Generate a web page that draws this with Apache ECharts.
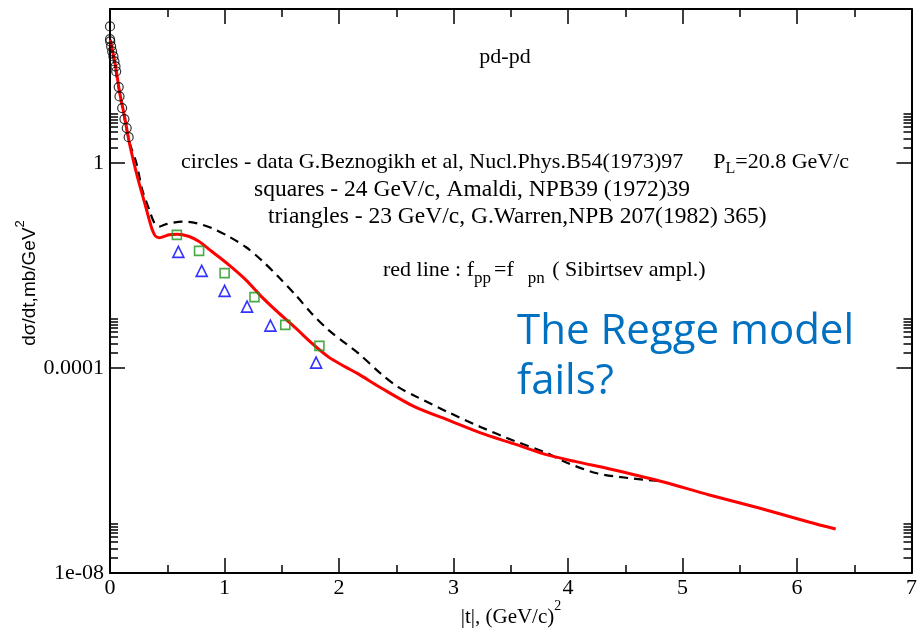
<!DOCTYPE html>
<html><head><meta charset="utf-8">
<script src="https://cdn.jsdelivr.net/npm/echarts@6/dist/echarts.min.js"></script>
<style>html,body{margin:0;padding:0;background:#fff}#c{width:920px;height:640px}</style>
</head><body><div id="c"></div>
<script>
// ---- data ----
const xTicks = [0, 1, 2, 3, 4, 5, 6, 7];
const yMajorTicks = [1e-8, 1e-4, 1];
const yMajorLabels = ['1e-08', '0.0001', '1'];
const yMinorTicks = [2e-8, 3e-8, 4e-8, 5e-8, 6e-8, 7e-8, 8e-8, 9e-8,
                     2e-4, 3e-4, 4e-4, 5e-4, 6e-4, 7e-4, 8e-4, 9e-4,
                     2, 3, 4, 5, 6, 7, 8, 9];

// circles - G.Beznogikh et al, 20.8 GeV/c
const circlesX = [0.0, 0.0, 0.002, 0.010, 0.019, 0.030, 0.039, 0.048, 0.054, 0.076, 0.083, 0.106, 0.126, 0.146, 0.163];
const circlesY = [457, 259, 233, 186, 149, 119, 94.8, 75.7, 60.4, 30.0, 19.7, 11.7, 7.12, 4.75, 3.17];

// squares - 24 GeV/c, Amaldi
const squaresX = [0.584, 0.778, 1.001, 1.262, 1.531, 1.829];
const squaresY = [0.0394, 0.0192, 0.00705, 0.0024, 6.9e-4, 2.69e-4];

// triangles - 23 GeV/c, G.Warren
const trianglesX = [0.597, 0.801, 1.001, 1.197, 1.401, 1.800];
const trianglesY = [0.0183, 0.00781, 0.00318, 0.00157, 6.69e-4, 1.27e-4];

// red line (f_pp = f_pn, Sibirtsev ampl.)
const redX = [0.002, 0.048, 0.083, 0.126, 0.169, 0.213, 0.256, 0.300, 0.343, 0.369, 0.395, 0.430, 0.474, 0.517, 0.586,
              0.691, 0.778, 0.890, 1.038, 1.186, 1.325, 1.473, 1.620, 1.759, 1.907, 2.055, 2.168, 2.368, 2.663, 2.950,
              3.236, 3.532, 3.819, 4.079, 4.366, 4.800, 5.235, 5.669, 6.103, 6.338];
const redY = [251, 78.1, 24.3, 8.26, 2.46, 0.914, 0.389, 0.173, 0.0772, 0.0493, 0.0376, 0.0344, 0.0368, 0.0394, 0.0403,
              0.0365, 0.0291, 0.0186, 0.0102, 0.00521, 0.00243, 0.00118, 6.03e-4, 3.08e-4, 1.64e-4, 1.05e-4, 7.64e-5, 4.07e-5, 1.73e-5, 9.66e-6,
              5.39e-6, 3.29e-6, 2.01e-6, 1.47e-6, 1.07e-6, 6.24e-7, 3.33e-7, 1.85e-7, 9.89e-8, 7.22e-8];

// black dashed line
const dashX = [0.002, 0.083, 0.169, 0.230, 0.282, 0.343, 0.387, 0.430, 0.491, 0.630, 0.752, 0.890, 1.038, 1.186, 1.325,
               1.473, 1.620, 1.759, 1.907, 2.055, 2.168, 2.368, 2.515, 2.663, 2.950, 3.236, 3.532, 3.819, 3.966, 4.253,
               4.540, 4.800];
const dashY = [251, 24.3, 2.57, 1.0, 0.297, 0.121, 0.0675, 0.0571, 0.0637, 0.0716, 0.0666, 0.0532, 0.0365, 0.0228, 0.0125,
               0.00591, 0.00266, 0.00117, 5.51e-4, 3.03e-4, 1.94e-4, 7.64e-5, 4.26e-5, 2.84e-5, 1.38e-5, 7.06e-6, 3.77e-6, 2.17e-6, 1.49e-6, 8.81e-7,
               7.05e-7, 6.24e-7];

const zip = (xs, ys) => xs.map((x, i) => [x, ys[i]]);
const SERIF = 'Liberation Serif';
const SANS = 'Liberation Sans';

// text measurement to lay out sub/superscript pieces
const mctx = document.createElement('canvas').getContext('2d');
function tw(text, size, family) { mctx.font = size + 'px "' + family + '"'; return mctx.measureText(text).width; }
// segs: [text, size, dy, gapBefore]
function textLine(x, y, segs, family, align, rotation, color) {
  let w = 0; const pos = [];
  segs.forEach(s => { w += (s[3] || 0); pos.push(w); w += tw(s[0], s[1], family); });
  const x0 = align === 'center' ? -w / 2 : 0;
  return {
    type: 'group', x: x, y: y, rotation: rotation || 0,
    children: segs.map((s, i) => ({
      type: 'text', x: x0 + pos[i], y: s[2],
      style: {text: s[0], font: s[1] + 'px "' + family + '"', fill: color || '#000', align: 'left', verticalAlign: 'middle'}
    }))
  };
}

const chart = echarts.init(document.getElementById('c'), null, {renderer: 'canvas'});

const xAxisBase = (pos, showLabel) => ({
  type: 'value', position: pos, min: 0, max: 7, interval: 1,
  axisLine: {show: true, onZero: false, lineStyle: {color: '#000', width: 2}},
  axisTick: {show: true, inside: true, length: 15, lineStyle: {color: '#000', width: 1.5}},
  minorTick: {show: true, splitNumber: 2, length: 8, lineStyle: {color: '#000', width: 1.5}},
  splitLine: {show: false}, minorSplitLine: {show: false},
  axisLabel: {show: showLabel, color: '#000', fontFamily: SERIF, fontSize: 22, margin: 4,
              formatter: v => String(v)}
});
const yAxisBase = (pos, ticks, len, showLine, showLabel) => ({
  type: 'log', logBase: 10, position: pos, min: 1e-8, max: 1000,
  axisLine: {show: showLine, onZero: false, lineStyle: {color: '#000', width: 2}},
  axisTick: {show: true, inside: true, length: len, customValues: ticks, lineStyle: {color: '#000', width: 1.5}},
  minorTick: {show: false},
  splitLine: {show: false},
  axisLabel: {show: showLabel, customValues: yMajorTicks, color: '#000', fontFamily: SERIF, fontSize: 22, margin: 6,
              formatter: v => {
                const i = yMajorTicks.findIndex(t => Math.abs(Math.log10(t) - Math.log10(v)) < 1e-6);
                return i >= 0 ? yMajorLabels[i] : '';
              }}
});

const F = 22, F2 = 23.5, FS = 16;
chart.setOption({
  animation: false,
  backgroundColor: '#fff',
  grid: {left: 110, right: 4, top: 9, bottom: 67, containLabel: false},
  xAxis: [xAxisBase('bottom', true), xAxisBase('top', false)],
  yAxis: [
    yAxisBase('left', yMajorTicks, 15, true, true),
    yAxisBase('left', yMinorTicks, 8, false, false),
    yAxisBase('right', yMajorTicks, 15, true, false),
    yAxisBase('right', yMinorTicks, 8, false, false)
  ],
  series: [
    {type: 'line', data: zip(dashX, dashY), showSymbol: false, smooth: 0.3, z: 3,
     lineStyle: {color: '#000', width: 2.2, type: [9, 6]}},
    {type: 'line', data: zip(redX, redY), showSymbol: false, smooth: 0.3, z: 4,
     lineStyle: {color: '#ff0000', width: 3}},
    {type: 'scatter', data: zip(circlesX, circlesY), symbol: 'circle', symbolSize: 9, clip: false, z: 5,
     itemStyle: {color: 'rgba(0,0,0,0)', borderColor: '#000', borderWidth: 1.2}},
    {type: 'scatter', data: zip(squaresX, squaresY), symbol: 'rect', symbolSize: 9, z: 5,
     itemStyle: {color: 'rgba(0,0,0,0)', borderColor: '#1a961a', borderWidth: 1.6}},
    {type: 'scatter', data: zip(trianglesX, trianglesY), symbol: 'triangle', symbolSize: 11, z: 5,
     itemStyle: {color: 'rgba(0,0,0,0)', borderColor: '#0000ff', borderWidth: 1.6}}
  ],
  graphic: [
    textLine(505, 57, [['pd-pd', F, 0]], SERIF, 'center'),
    textLine(181, 162, [['circles - data G.Beznogikh et al, Nucl.Phys.B54(1973)97', F, 0], ['P', F, 0, 30], ['L', FS, 7], ['=20.8 GeV/c', F, 0]], SERIF, 'left'),
    textLine(254, 190, [['squares - 24 GeV/c, Amaldi, NPB39 (1972)39', F2, 0]], SERIF, 'left'),
    textLine(268, 217, [['triangles - 23 GeV/c, G.Warren,NPB 207(1982) 365)', F2, 0]], SERIF, 'left'),
    textLine(383, 270, [['red line : f', F, 0], ['pp', 17, 9], ['=f', F, 0, 3], ['pn', 17, 9, 14], [' ( Sibirtsev ampl.)', F, 0, 2]], SERIF, 'left'),
    {type: 'text', x: 517, y: 332, style: {text: 'The Regge model', font: '42px "Open Sans"', fill: '#0070C0', align: 'left', verticalAlign: 'middle'}},
    {type: 'text', x: 517, y: 382, style: {text: 'fails?', font: '42px "Open Sans"', fill: '#0070C0', align: 'left', verticalAlign: 'middle'}},
    textLine(511, 617, [['|t|, (GeV/c)', 21, 0], ['2', 14, -11]], SERIF, 'center'),
    textLine(30, 283, [['dσ/dt,mb/GeV', 19, 0], ['2', 13, -10]], SANS, 'center', Math.PI / 2)
  ]
});
</script>
</body></html>
